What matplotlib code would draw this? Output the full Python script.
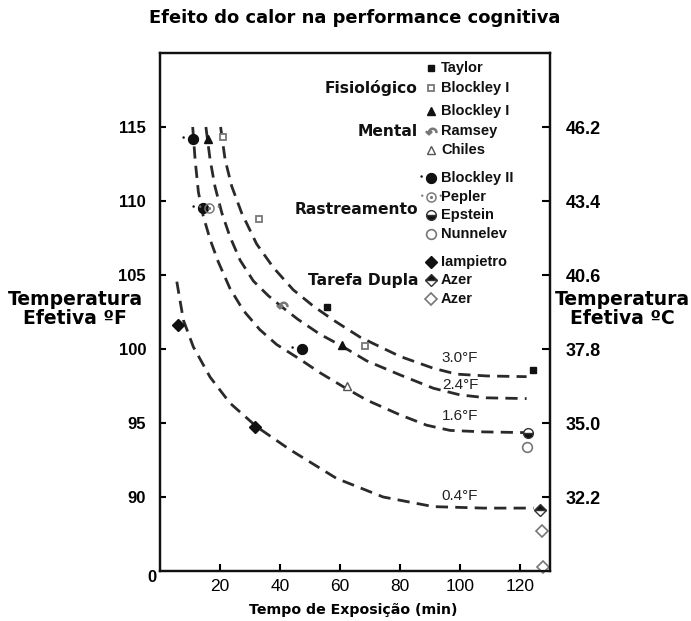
import numpy as np
import matplotlib
matplotlib.use("Agg")
import matplotlib.pyplot as plt
from matplotlib.path import Path

# ---------------- data ----------------
title = "Efeito do calor na performance cognitiva"
xlabel = "Tempo de Exposição (min)"
ylabel_left = "Temperatura\nEfetiva ºF"
ylabel_right = "Temperatura\nEfetiva ºC"

x_ticks = [20, 40, 60, 80, 100, 120]
y_ticks_f = [90, 95, 100, 105, 110, 115]
y_ticks_c = ["32.2", "35.0", "37.8", "40.6", "43.4", "46.2"]

# dashed iso-lines
c30_x = [20.2, 21.7, 23.9, 27.2, 32.2, 37.8, 44.4, 51.1, 57.8, 66.7, 80.0, 91.1, 98.9, 108.9, 122.2]
c30_y = [115.0, 112.8, 111.0, 109.2, 107.1, 105.5, 104.0, 102.9, 101.95, 100.8, 99.5, 98.7, 98.3, 98.18, 98.13]
c24_x = [15.3, 16.7, 18.3, 20.6, 23.3, 26.7, 31.1, 36.1, 40.6, 46.0, 53.3, 60.6, 68.9, 80.0, 91.1, 100.0, 108.9, 122.2]
c24_y = [115.0, 112.8, 111.0, 109.2, 107.6, 106.0, 104.6, 103.6, 102.85, 102.0, 101.0, 100.2, 99.2, 98.25, 97.35, 96.9, 96.7, 96.65]
c16_x = [10.9, 11.7, 12.8, 14.4, 16.7, 19.4, 23.3, 27.8, 33.3, 38.9, 46.7, 53.3, 61.1, 68.9, 80.0, 88.9, 96.7, 107.8, 122.0]
c16_y = [115.0, 112.8, 110.6, 109.0, 107.4, 105.9, 104.1, 102.6, 101.3, 100.3, 99.3, 98.4, 97.45, 96.55, 95.55, 94.85, 94.5, 94.4, 94.35]
c04_x = [5.6, 7.8, 11.1, 16.7, 23.3, 32.2, 43.3, 58.9, 74.4, 91.1, 107.8, 124.5]
c04_y = [104.55, 101.95, 100.15, 98.1, 96.35, 94.75, 93.2, 91.25, 90.0, 89.35, 89.25, 89.25]
curve_labels = ["3.0°F", "2.4°F", "1.6°F", "0.4°F"]
curve_label_x = [100.0, 100.0, 100.0, 100.0]
curve_label_y = [99.4, 97.55, 95.5, 90.1]

# study points
taylor_x, taylor_y = [55.6, 124.2], [102.85, 98.6]
blockley1f_x, blockley1f_y = [21.1, 33.1, 68.4], [114.3, 108.8, 100.2]
blockley1m_x, blockley1m_y = [15.9, 60.7], [114.2, 100.25]
ramsey_x, ramsey_y = [40.6], [102.95]
chiles_x, chiles_y = [62.2], [97.5]
blockley2_x, blockley2_y = [10.9, 14.2, 47.4], [114.2, 109.55, 100.0]
pepler_x, pepler_y = [16.4], [109.5]
epstein_x, epstein_y = [122.6], [94.35]
nunnelev_x, nunnelev_y = [122.3], [93.4]
iampietro_x, iampietro_y = [6.0, 31.8], [101.6, 94.75]
azer1_x, azer1_y = [126.7], [89.1]
azer2_x, azer2_y = [127.2, 127.8], [87.7, 85.3]

legend_names = ["Taylor", "Blockley I", "Blockley I", "Ramsey", "Chiles",
                "Blockley II", "Pepler", "Epstein", "Nunnelev",
                "Iampietro", "Azer", "Azer"]
group_names = ["Fisiológico", "Mental", "Rastreamento", "Tarefa Dupla"]

# ---------------- custom markers ----------------
def poly_circle(cx, cy, r, cw=False, n=48):
    t = np.linspace(0, 2 * np.pi, n)
    if cw:
        t = t[::-1]
    return np.column_stack([cx + r * np.cos(t), cy + r * np.sin(t)])

def compound(polys):
    verts, codes = [], []
    for p in polys:
        verts.extend(p.tolist())
        codes.extend([Path.MOVETO] + [Path.LINETO] * (len(p) - 2) + [Path.CLOSEPOLY])
    return Path(verts, codes)

m_blockley2 = compound([poly_circle(0, 0, 1.0), poly_circle(-1.75, 0.35, 0.22)])
m_pepler = compound([poly_circle(0, 0, 1.0), poly_circle(0, 0, 0.72, cw=True),
                     poly_circle(0, 0, 0.3), poly_circle(-1.75, 0.35, 0.22),
                     poly_circle(1.75, 0.35, 0.22)])

# ---------------- figure ----------------
plt.rcParams['font.family'] = ['DejaVu Sans']
W, H = 691, 621
fig = plt.figure(figsize=(W / 100, H / 100), dpi=100)
ax = fig.add_axes([160 / W, (H - 571) / H, 390 / W, 518 / H])
ax.set_xlim(0, 130)
ax.set_ylim(85, 120)

dash_kw = dict(color="#2a2a2a", lw=2.0, ls=(0, (4.4, 2.6)))
for cx, cy in [(c30_x, c30_y), (c24_x, c24_y), (c16_x, c16_y), (c04_x, c04_y)]:
    ax.plot(cx, cy, **dash_kw, zorder=2)
for lab, lx, ly in zip(curve_labels, curve_label_x, curve_label_y):
    ax.text(lx, ly, lab, ha="center", va="center", fontsize=11,
            family="Liberation Sans", color="#222222", zorder=3)

dark = "#111111"
grey = "#777777"
styles = [
    (taylor_x, taylor_y, dict(marker="s", ms=4.5, mfc=dark, mec=dark)),
    (blockley1f_x, blockley1f_y, dict(marker="s", ms=5, mfc="white", mec=grey, mew=1.3)),
    (blockley1m_x, blockley1m_y, dict(marker="^", ms=6, mfc=dark, mec=dark)),
    (ramsey_x, ramsey_y, dict(marker=r"$\curvearrowleft$", ms=8, mfc=grey, mec=grey)),
    (chiles_x, chiles_y, dict(marker="^", ms=6, mfc="white", mec="#555555", mew=1.0)),
    (blockley2_x, blockley2_y, dict(marker=m_blockley2, ms=16, mfc=dark, mec=dark, mew=0)),
    (pepler_x, pepler_y, dict(marker=m_pepler, ms=15, mfc=grey, mec=grey, mew=0)),
    (epstein_x, epstein_y, dict(marker="o", ms=7, fillstyle="bottom", mfc=dark,
                                mfcalt="white", mec="#333333", mew=1.0)),
    (nunnelev_x, nunnelev_y, dict(marker="o", ms=7, mfc="white", mec=grey, mew=1.2)),
    (iampietro_x, iampietro_y, dict(marker="D", ms=6, mfc=dark, mec=dark)),
    (azer1_x, azer1_y, dict(marker="D", ms=6, fillstyle="top", mfc=dark,
                            mfcalt="white", mec="#333333", mew=1.0)),
    (azer2_x, azer2_y, dict(marker="D", ms=6, mfc="white", mec=grey, mew=1.2)),
]
for xs, ys, st in styles:
    ax.plot(xs, ys, ls="none", zorder=4, clip_on=False, **st)

# legend block drawn inside the axes (pixel rows of the reference)
row_px = [68, 88, 111, 131, 150, 178, 197, 215, 234, 262, 280, 299]
for (xs, ys, st), name, py in zip(styles, legend_names, row_px):
    fy = (571 - py) / 518
    ax.plot([(430.5 - 160) / 390], [fy], ls="none", transform=ax.transAxes,
            zorder=4, **st)
    ax.text((441 - 160) / 390, fy, name, transform=ax.transAxes, ha="left",
            va="center", fontsize=10.5, fontweight="bold",
            family=["Liberation Sans Narrow", "Liberation Sans"], color="#111111")
group_px = [88, 132, 209, 280]
for g, py in zip(group_names, group_px):
    ax.text((418 - 160) / 390, (571 - py) / 518, g, transform=ax.transAxes,
            ha="right", va="center", fontsize=11.2, fontweight="bold", color="#111111")

# axes styling
for s in ax.spines.values():
    s.set_linewidth(1.6)
    s.set_color("#111111")
ax.set_xticks(x_ticks)
ax.set_xticklabels([str(v) for v in x_ticks], fontsize=12.5, family="Liberation Sans")
ax.set_yticks(y_ticks_f)
ax.set_yticklabels([str(v) for v in y_ticks_f], fontsize=12, fontweight="bold",
                   family="Liberation Sans")
ax.tick_params(axis="x", direction="in", length=5, width=1.5, pad=6)
ax.tick_params(axis="y", direction="in", length=4, width=1.5, pad=10)
ax.text(-0.0205, -0.0116, "0", transform=ax.transAxes, ha="center", va="center",
        fontsize=12, fontweight="bold", family="Liberation Sans")

ax2 = ax.twinx()
ax2.set_ylim(ax.get_ylim())
ax2.set_yticks(y_ticks_f)
ax2.set_yticklabels(y_ticks_c, fontsize=13, fontweight="bold", family="Liberation Sans")
ax2.tick_params(axis="y", direction="in", length=6, width=1.5, pad=11)
for s in ax2.spines.values():
    s.set_linewidth(1.6)
    s.set_color("#111111")

fig.text(355 / W, 1 - 18 / H, title, ha="center", va="center", fontsize=12.9,
         fontweight="bold")
fig.text(353 / W, 1 - 610 / H, xlabel, ha="center", va="center", fontsize=10.2,
         fontweight="bold")
fig.text(75 / W, 1 - 309 / H, ylabel_left, ha="center", va="center", fontsize=13.5,
         fontweight="bold", linespacing=1.0)
fig.text(622 / W, 1 - 309 / H, ylabel_right, ha="center", va="center", fontsize=13.5,
         fontweight="bold", linespacing=1.0)

fig.savefig("out.png", dpi=100)
